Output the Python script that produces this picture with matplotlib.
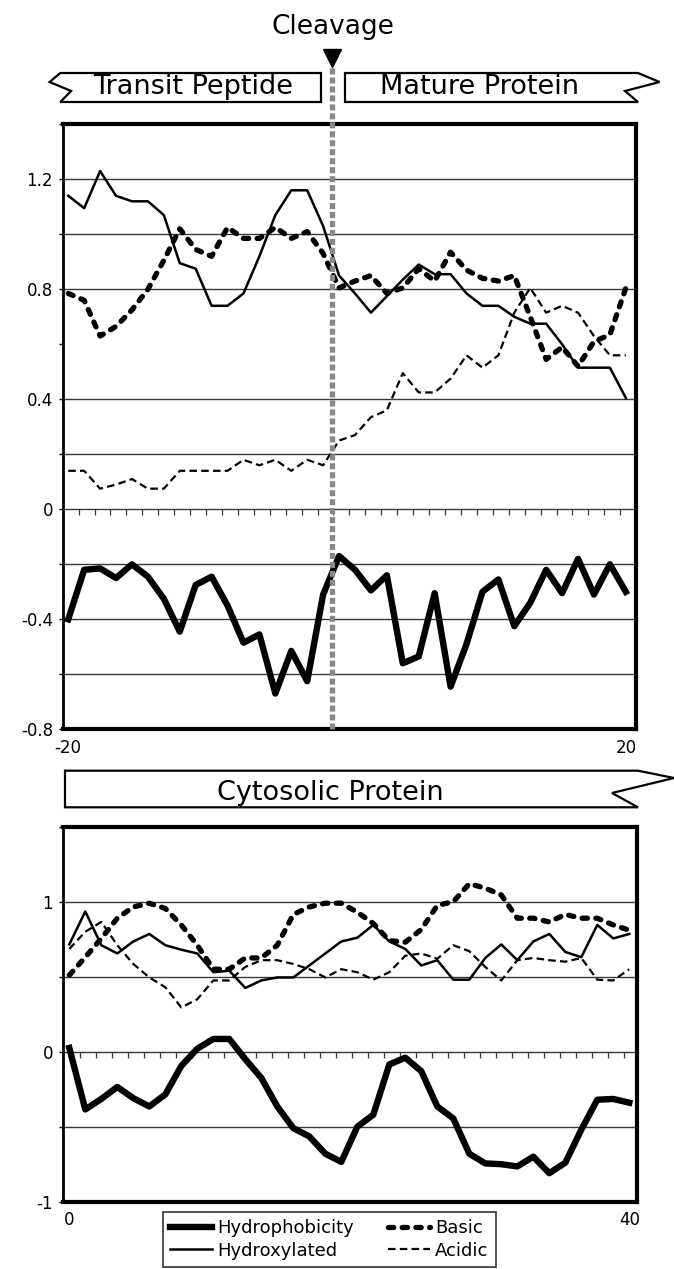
import numpy as np
import matplotlib
matplotlib.use('Agg')
import matplotlib.pyplot as plt
from matplotlib.patches import Polygon
from matplotlib.markers import TICKDOWN

plt.rcParams['font.family'] = ['DejaVu Sans']
plt.rcParams['axes.unicode_minus'] = False

# Top panel: transit peptide / mature protein, 36 window positions
top_hydrophobicity = [-0.40, -0.22, -0.215, -0.25, -0.20, -0.245, -0.325, -0.445, -0.275, -0.245,
                      -0.35, -0.485, -0.455, -0.67, -0.515, -0.625, -0.31, -0.17, -0.22, -0.295,
                      -0.24, -0.56, -0.535, -0.305, -0.645, -0.49, -0.30, -0.255, -0.425, -0.34,
                      -0.22, -0.305, -0.18, -0.31, -0.20, -0.30]
top_hydroxylated = [1.14, 1.095, 1.23, 1.14, 1.12, 1.12, 1.07, 0.895, 0.875, 0.74,
                    0.74, 0.785, 0.92, 1.07, 1.16, 1.16, 1.03, 0.85, 0.785, 0.715,
                    0.775, 0.835, 0.89, 0.855, 0.855, 0.785, 0.74, 0.74, 0.70, 0.675,
                    0.675, 0.60, 0.515, 0.515, 0.515, 0.405]
top_basic = [0.785, 0.76, 0.63, 0.665, 0.725, 0.80, 0.905, 1.02, 0.945, 0.92,
             1.025, 0.985, 0.985, 1.025, 0.985, 1.01, 0.93, 0.805, 0.83, 0.85,
             0.785, 0.805, 0.875, 0.83, 0.935, 0.87, 0.84, 0.83, 0.85, 0.70,
             0.545, 0.59, 0.52, 0.61, 0.635, 0.805]
top_acidic = [0.14, 0.14, 0.075, 0.09, 0.11, 0.075, 0.075, 0.14, 0.14, 0.14,
              0.14, 0.18, 0.16, 0.18, 0.14, 0.18, 0.16, 0.25, 0.27, 0.335,
              0.36, 0.495, 0.425, 0.425, 0.475, 0.56, 0.515, 0.56, 0.715, 0.805,
              0.715, 0.74, 0.715, 0.63, 0.56, 0.56]

# Bottom panel: cytosolic protein
cyto_hydrophobicity = [0.025, -0.385, -0.315, -0.235, -0.31, -0.365, -0.285, -0.095, 0.02, 0.085,
                       0.085, -0.05, -0.175, -0.365, -0.51, -0.565, -0.68, -0.735, -0.50, -0.42,
                       -0.085, -0.04, -0.13, -0.365, -0.445, -0.68, -0.745, -0.75, -0.765, -0.70,
                       -0.81, -0.74, -0.52, -0.32, -0.315, -0.34]
cyto_hydroxylated = [0.715, 0.935, 0.71, 0.655, 0.735, 0.785, 0.71, 0.68, 0.655, 0.53,
                     0.54, 0.425, 0.475, 0.495, 0.495, 0.575, 0.655, 0.735, 0.76, 0.845,
                     0.735, 0.685, 0.575, 0.61, 0.48, 0.48, 0.625, 0.715, 0.61, 0.735,
                     0.785, 0.665, 0.63, 0.845, 0.755, 0.785]
cyto_basic = [0.51, 0.63, 0.755, 0.89, 0.965, 0.99, 0.955, 0.845, 0.71, 0.55,
              0.55, 0.625, 0.625, 0.71, 0.915, 0.965, 0.99, 0.99, 0.93, 0.855,
              0.74, 0.73, 0.815, 0.975, 1.0, 1.12, 1.09, 1.045, 0.89, 0.89,
              0.865, 0.915, 0.89, 0.89, 0.845, 0.81]
cyto_acidic = [0.685, 0.80, 0.865, 0.71, 0.585, 0.495, 0.43, 0.295, 0.35, 0.475,
               0.475, 0.565, 0.61, 0.61, 0.585, 0.55, 0.495, 0.55, 0.53, 0.48,
               0.53, 0.64, 0.655, 0.62, 0.71, 0.67, 0.565, 0.475, 0.61, 0.625,
               0.61, 0.60, 0.625, 0.48, 0.475, 0.55]

series_names = ['Hydrophobicity', 'Hydroxylated', 'Basic', 'Acidic']
top_xlabels = ['-20', '20']
cyto_xlabels = ['0', '40']
top_yticks = [-0.8, -0.4, 0, 0.4, 0.8, 1.2]
top_ylabels = ['-0.8', '-0.4', '0', '0.4', '0.8', '1.2']
cyto_yticks = [-1, 0, 1]
cyto_ylabels = ['-1', '0', '1']
cleavage_pos = 16.57

styles = {
    'Hydrophobicity': dict(color='black', lw=4.6),
    'Hydroxylated': dict(color='black', lw=1.8),
    'Basic': dict(color='black', lw=3.8, linestyle=(0, (1.0, 1.6)), dash_capstyle='round'),
    'Acidic': dict(color='black', lw=1.6, linestyle=(0, (3.4, 1.9))),
}

W, H = 674, 1269
fig = plt.figure(figsize=(W / 100, H / 100), dpi=100)


def box(l, t, r, b):
    return [l / W, 1 - b / H, (r - l) / W, (b - t) / H]


def fig_pts(pts):
    return [(x / W, 1 - y / H) for x, y in pts]


def draw_panel(ax, data, xlim, ylim, grid_y, yticks, ylabels, minor_y, xlabels):
    x = np.arange(len(data[0]))
    for yv in grid_y:
        ax.axhline(yv, color='#3a3a3a', lw=1.0, zorder=1)
    lines = []
    for name, vals in zip(series_names, data):
        ln, = ax.plot(x, vals, zorder=3, **styles[name])
        lines.append(ln)
    # little tick marks hanging under the zero line
    zt = np.arange(len(x) - 1) + 0.65
    ax.plot(zt, np.zeros_like(zt), linestyle='none', marker=TICKDOWN, ms=4,
            mew=0.9, color='#3a3a3a', zorder=2)
    ax.set_xlim(*xlim)
    ax.set_ylim(*ylim)
    ax.set_yticks(yticks, labels=ylabels)
    ax.set_yticks(minor_y, minor=True)
    ax.set_xticks([x[0], x[-1]], labels=xlabels)
    ax.tick_params(axis='y', which='both', direction='out', length=3, width=1,
                   labelsize=12, pad=4.5)
    ax.tick_params(axis='x', length=0, labelsize=12, pad=7)
    for side in ['top', 'bottom', 'right']:
        ax.spines[side].set_linewidth(3)
    ax.spines['left'].set_linewidth(2)
    return lines


ax1 = fig.add_axes(box(63.3, 124.3, 635.7, 729.3))
ax2 = fig.add_axes(box(63.3, 826.7, 637.3, 1201.7))

draw_panel(ax1, [top_hydrophobicity, top_hydroxylated, top_basic, top_acidic],
           (-0.31, 35.62), (-0.8, 1.4),
           [-0.6, -0.4, -0.2, 0, 0.2, 0.4, 0.8, 1.0, 1.2],
           top_yticks, top_ylabels, [-0.6, -0.2, 0.2, 0.6, 1.0, 1.4], top_xlabels)
lines = draw_panel(ax2, [cyto_hydrophobicity, cyto_hydroxylated, cyto_basic, cyto_acidic],
                   (-0.375, 35.5), (-1, 1.5), [-0.5, 0, 0.5, 1.0],
                   cyto_yticks, cyto_ylabels, [-0.5, 0.5, 1.5], cyto_xlabels)

# cleavage site marker
ax1.axvline(cleavage_pos, ymin=0, ymax=1.098, color='#888888', lw=3.8,
            linestyle=(0, (1.15, 0.55)), clip_on=False, zorder=5)
ax1.plot([cleavage_pos], [1.11], marker='v', ms=13, color='black',
         transform=ax1.get_xaxis_transform(), clip_on=False)
fig.text(333 / W, 1 - 34 / H, 'Cleavage', ha='center', va='baseline', fontsize=19)

# banner shapes
left_banner = [(60.3, 73), (321, 73), (321, 102), (60.3, 102), (71.1, 91), (49.6, 82)]
right_banner = [(345, 73), (638, 73), (659.5, 82), (625, 91), (638, 102), (345, 102)]
cyto_banner = [(65, 770.7), (638, 770.7), (674, 778), (612, 793), (638, 807.3), (65, 807.3)]
for pts in [left_banner, right_banner, cyto_banner]:
    fig.add_artist(Polygon(fig_pts(pts), closed=True, facecolor='white', edgecolor='black',
                           lw=1.6, transform=fig.transFigure, clip_on=False))

fig.text(193 / W, 1 - 94 / H, 'Transit Peptide', ha='center', va='baseline', fontsize=19.5)
fig.text(479.5 / W, 1 - 94 / H, 'Mature Protein', ha='center', va='baseline', fontsize=19.5)
fig.text(330 / W, 1 - 800 / H, 'Cytosolic Protein', ha='center', va='baseline', fontsize=19.5)

leg = fig.legend(lines, series_names, ncol=2, loc='upper left',
                 bbox_to_anchor=(163 / W, 1 - 1212 / H), frameon=True, fancybox=False,
                 edgecolor='black', fontsize=13, handlelength=2.3, handletextpad=0.3,
                 columnspacing=1.9, labelspacing=0.25, borderpad=0.4, borderaxespad=0)
leg.get_frame().set_linewidth(1.2)

fig.savefig('out.png', dpi=100)
